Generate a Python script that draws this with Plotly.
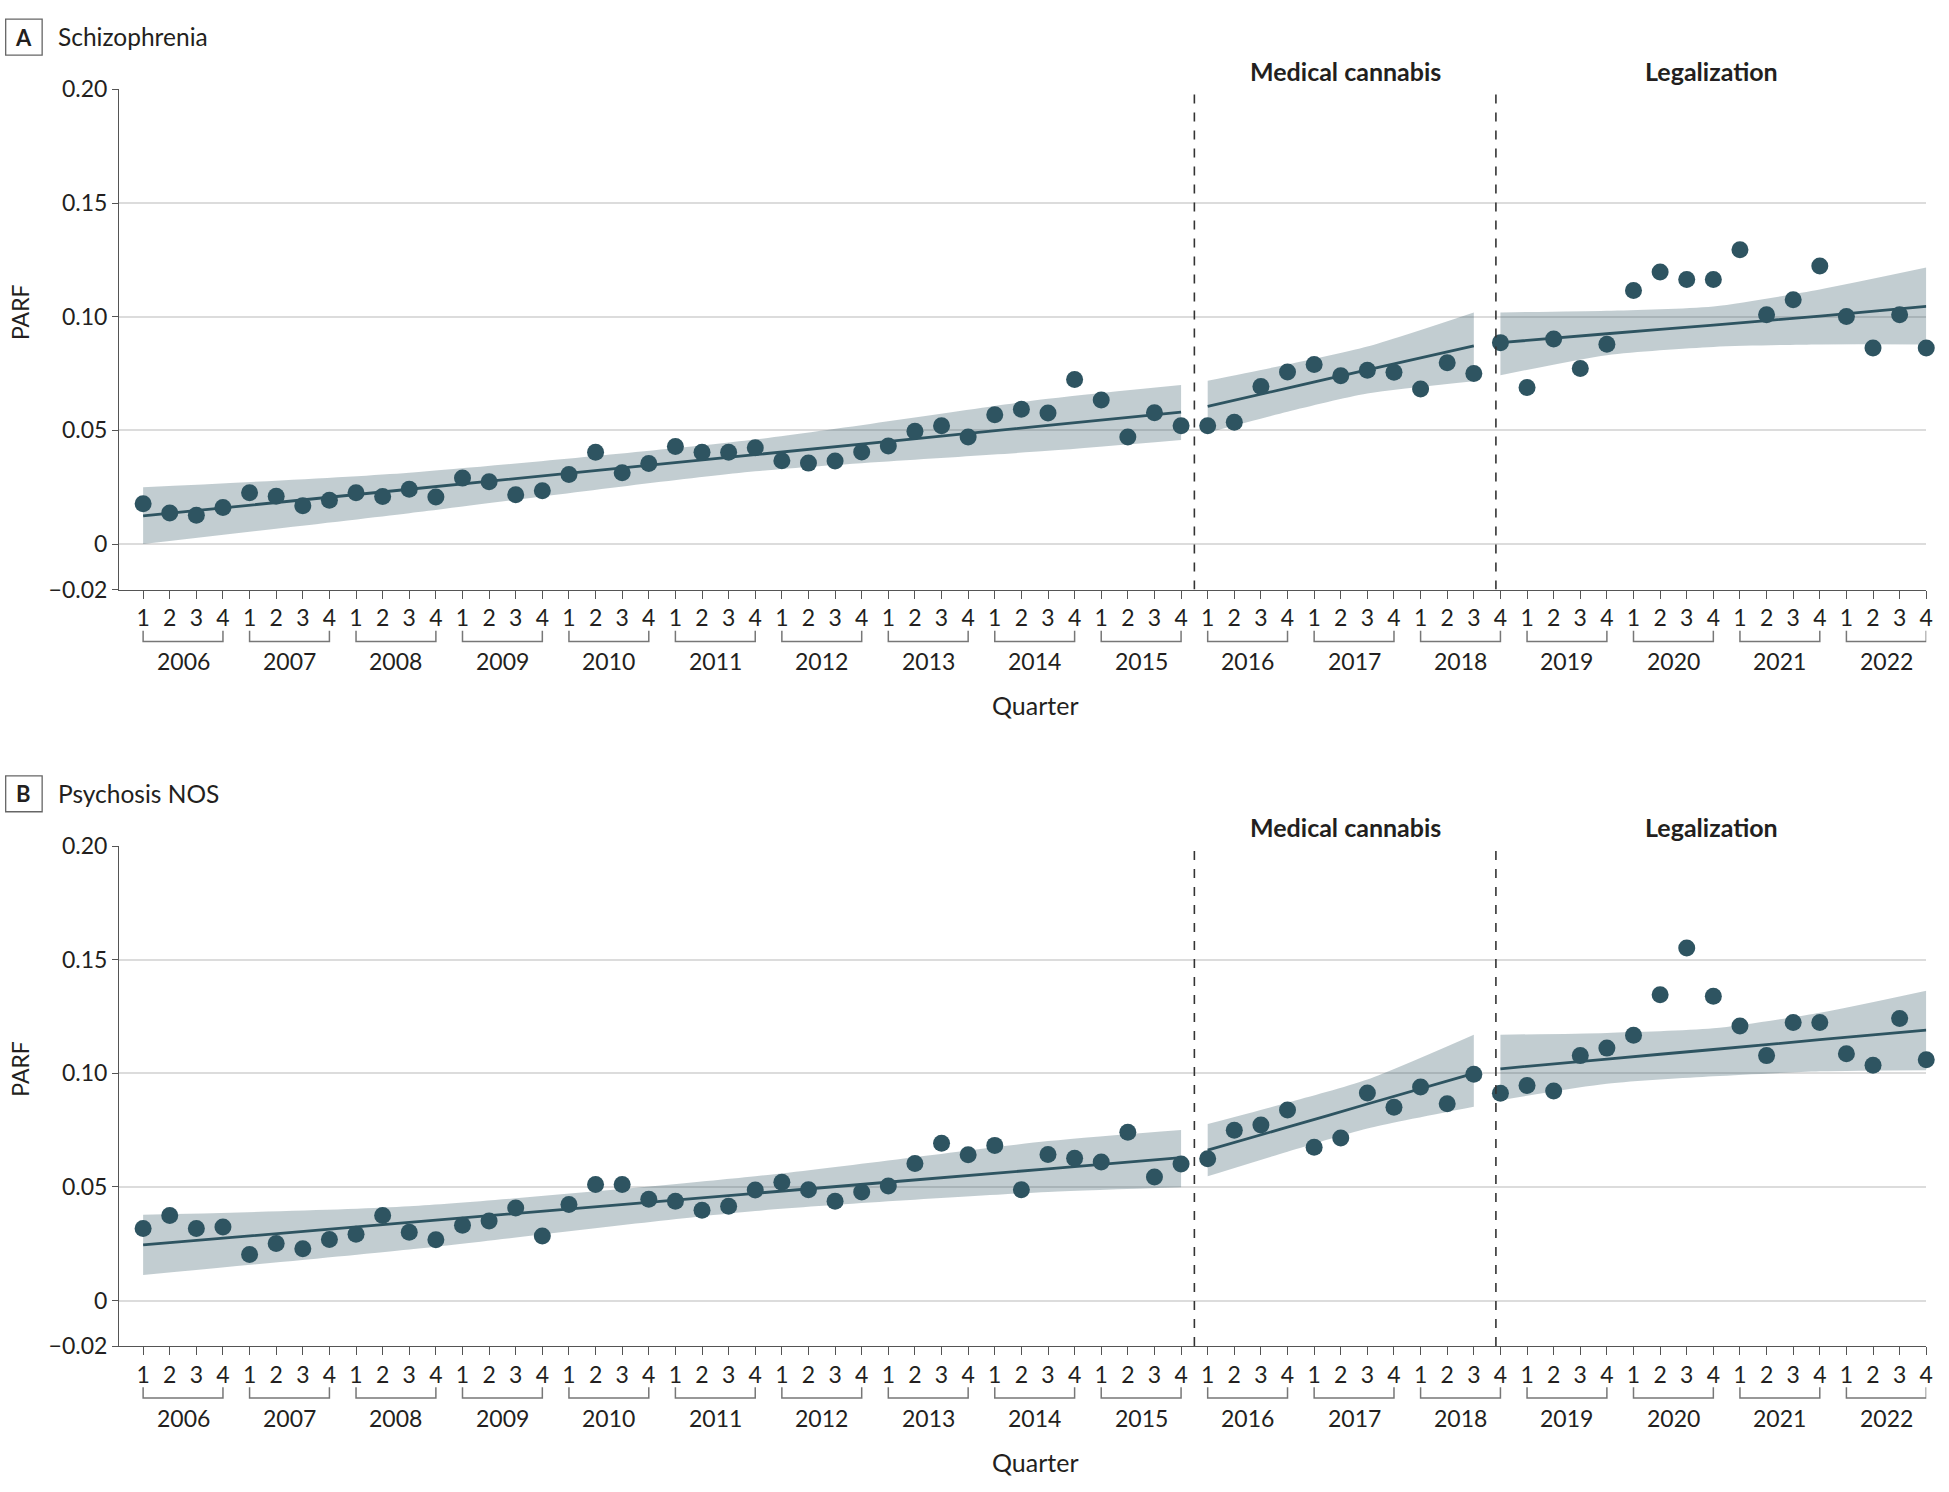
import plotly.graph_objects as go

W, H = 1949, 1492

# ---------------- data ----------------
years = list(range(2006, 2023))
quarter_labels = ["1", "2", "3", "4"]

schizophrenia = [
    0.0177, 0.0137, 0.0127, 0.0161,
    0.0226, 0.0210, 0.0169, 0.0193,
    0.0226, 0.0209, 0.0241, 0.0207,
    0.0290, 0.0274, 0.0217, 0.0234,
    0.0306, 0.0404, 0.0314, 0.0354,
    0.0429, 0.0404, 0.0404, 0.0424,
    0.0366, 0.0356, 0.0365, 0.0405,
    0.0431, 0.0496, 0.0520, 0.0471,
    0.0569, 0.0593, 0.0576, 0.0724,
    0.0634, 0.0471, 0.0578, 0.0520,
    0.0520, 0.0536, 0.0693, 0.0757,
    0.0790, 0.0740, 0.0764, 0.0756,
    0.0682, 0.0797, 0.0750, 0.0886,
    0.0689, 0.0902, 0.0772, 0.0879,
    0.1115, 0.1197, 0.1164, 0.1164,
    0.1295, 0.1009, 0.1075, 0.1223,
    0.1001, 0.0862, 0.1009, 0.0862,
]

psychosis_nos = [
    0.0317, 0.0374, 0.0317, 0.0324,
    0.0203, 0.0251, 0.0228, 0.0269,
    0.0292, 0.0374, 0.0301, 0.0268,
    0.0332, 0.0350, 0.0407, 0.0284,
    0.0423, 0.0511, 0.0511, 0.0446,
    0.0437, 0.0398, 0.0415, 0.0487,
    0.0521, 0.0488, 0.0437, 0.0478,
    0.0504, 0.0603, 0.0692, 0.0642,
    0.0683, 0.0488, 0.0643, 0.0626,
    0.0610, 0.0741, 0.0544, 0.0601,
    0.0624, 0.0750, 0.0773, 0.0839,
    0.0675, 0.0715, 0.0913, 0.0851,
    0.0940, 0.0866, 0.0996, 0.0912,
    0.0947, 0.0922, 0.1078, 0.1111,
    0.1168, 0.1346, 0.1552, 0.1339,
    0.1208, 0.1078, 0.1224, 0.1224,
    0.1086, 0.1036, 0.1241, 0.1060,
]

# fitted trend + 95% CI, read at knot quarters (index 0 = 2006 Q1)
seg_knots = [[0, 10, 23, 34, 39], [40, 43, 46, 50], [51, 55, 59, 63, 67]]

a_fit = [[0.0124, 0.0241, 0.0393, 0.0522, 0.0580],
         [0.0606, 0.0686, 0.0766, 0.0872],
         [0.0886, 0.0925, 0.0963, 0.1003, 0.1045]]
a_lo = [[0.0000, 0.0136, 0.0320, 0.0410, 0.0458],
        [0.0490, 0.0582, 0.0662, 0.0716],
        [0.0742, 0.0831, 0.0867, 0.0878, 0.0878]]
a_hi = [[0.0250, 0.0314, 0.0460, 0.0639, 0.0700],
        [0.0718, 0.0790, 0.0869, 0.1019],
        [0.1019, 0.1026, 0.1045, 0.1120, 0.1216]]

b_fit = [[0.0245, 0.0344, 0.0472, 0.0580, 0.0629],
         [0.0662, 0.0763, 0.0865, 0.1000],
         [0.1020, 0.1063, 0.1105, 0.1148, 0.1190]]
b_lo = [[0.0113, 0.0225, 0.0394, 0.0478, 0.0499],
        [0.0547, 0.0655, 0.0757, 0.0853],
        [0.0882, 0.0954, 0.0987, 0.1009, 0.1014]]
b_hi = [[0.0378, 0.0415, 0.0547, 0.0702, 0.0751],
        [0.0777, 0.0871, 0.0973, 0.1170],
        [0.1170, 0.1178, 0.1198, 0.1267, 0.1364]]

period_labels = ["Medical cannabis", "Legalization"]
period_starts = [39.5, 50.83]

panel_letters = ["A", "B"]
panel_titles = ["Schizophrenia", "Psychosis NOS"]

ytick_vals = [-0.02, 0, 0.05, 0.10, 0.15, 0.20]
ytick_text = ["\u22120.02", "0", "0.05", "0.10", "0.15", "0.20"]

# ---------------- styling ----------------
DOT = "#2E5461"
BAND = "rgba(46,84,97,0.29)"
TXT = "#231F20"
GRID = "#DCDCDC"
AX = "#555555"
FONT = "Lato, 'Noto Sans', sans-serif"
FS = 23

n = len(years) * 4
xs = list(range(n))
x_end = n - 1
x_start = -0.9


def fx(px):
    return px / W


def fy(py):
    return 1 - py / H


panels = [dict(top=75.8, bot=585.5), dict(top=847.0, bot=1356.5)]
x_left_px, x_right_px = 119.6, 1933.2

fig = go.Figure()
series = [schizophrenia, psychosis_nos]
fits = [(a_fit, a_lo, a_hi), (b_fit, b_lo, b_hi)]

shapes = []
annotations = []

for p in range(2):
    xa = "x" if p == 0 else "x2"
    ya = "y" if p == 0 else "y2"
    fit, lo, hi = fits[p]
    for s in range(3):
        fig.add_trace(go.Scatter(x=seg_knots[s], y=lo[s], mode="lines",
                                 line=dict(width=0, shape="spline", smoothing=0.7),
                                 hoverinfo="skip", showlegend=False, xaxis=xa, yaxis=ya))
        fig.add_trace(go.Scatter(x=seg_knots[s], y=hi[s], mode="lines",
                                 line=dict(width=0, shape="spline", smoothing=0.7),
                                 fill="tonexty", fillcolor=BAND,
                                 hoverinfo="skip", showlegend=False, xaxis=xa, yaxis=ya))
    for s in range(3):
        fig.add_trace(go.Scatter(x=seg_knots[s], y=fit[s], mode="lines",
                                 line=dict(width=2.8, color=DOT, shape="spline", smoothing=0.5),
                                 hoverinfo="skip", showlegend=False, xaxis=xa, yaxis=ya))
    fig.add_trace(go.Scatter(x=xs, y=series[p], mode="markers",
                             marker=dict(size=17, color=DOT),
                             cliponaxis=False, showlegend=False, xaxis=xa, yaxis=ya))

    for xv in period_starts:
        shapes.append(dict(type="line", xref=xa, yref=ya, x0=xv, x1=xv, y0=-0.02, y1=0.20,
                           line=dict(color="#333333", width=1.6, dash="dash"), layer="above"))
    bounds = period_starts + [x_end]
    top = panels[p]["top"]
    bot = panels[p]["bot"]
    for i, lab in enumerate(period_labels):
        annotations.append(dict(text="<b>" + lab + "</b>", xref=xa, yref="paper",
                                x=(bounds[i] + bounds[i + 1]) / 2, y=fy(top - 19),
                                showarrow=False, xanchor="center", yanchor="middle",
                                font=dict(size=25, color=TXT, family=FONT)))
    for k, yr in enumerate(years):
        x0 = k * 4
        x1 = k * 4 + 3
        yt = fy(bot + 42)
        yb = fy(bot + 53)
        shapes.append(dict(type="path", xref=xa, yref="paper",
                           path=f"M {x0},{yt} L {x0},{yb} L {x1},{yb} L {x1},{yt}",
                           line=dict(color="#777777", width=1.5)))
        annotations.append(dict(text=str(yr), xref=xa, yref="paper", x=(x0 + x1) / 2,
                                y=fy(bot + 73), showarrow=False, xanchor="center",
                                yanchor="middle", font=dict(size=FS, color=TXT, family=FONT)))
    annotations.append(dict(text="Quarter", xref="paper", yref="paper", x=fx(1039),
                            y=fy(bot + 118), showarrow=False, xanchor="center", yanchor="middle",
                            font=dict(size=25, color=TXT, family=FONT)))
    annotations.append(dict(text="PARF", xref="paper", yref="paper", x=fx(20),
                            y=fy(top + 227), showarrow=False, textangle=-90,
                            xanchor="center", yanchor="middle",
                            font=dict(size=23, color=TXT, family=FONT)))
    shapes.append(dict(type="rect", xref="paper", yref="paper", x0=fx(5.7), x1=fx(42.3),
                       y0=fy(top - 71.6), y1=fy(top - 35.0), line=dict(color="#666666", width=1.3)))
    annotations.append(dict(text="<b>" + panel_letters[p] + "</b>", xref="paper", yref="paper",
                            x=fx(24.0), y=fy(top - 53.3), showarrow=False, xanchor="center",
                            yanchor="middle", font=dict(size=22, color=TXT, family=FONT)))
    annotations.append(dict(text=panel_titles[p], xref="paper", yref="paper",
                            x=fx(56), y=fy(top - 54), showarrow=False, xanchor="left",
                            yanchor="middle", font=dict(size=24.5, color=TXT, family=FONT)))

xaxis_common = dict(range=[x_start, x_end], tickvals=xs, ticktext=quarter_labels * len(years),
                    ticks="outside", ticklen=8, tickwidth=1.3, tickcolor=AX,
                    showline=True, linecolor=AX, linewidth=1.3, showgrid=False, zeroline=False,
                    tickfont=dict(size=FS, color=TXT, family=FONT),
                    domain=[fx(x_left_px), fx(x_right_px)], fixedrange=True)
yaxis_common = dict(range=[-0.02, 0.20], tickvals=ytick_vals, ticktext=ytick_text,
                    ticks="outside", ticklen=6, tickwidth=1.3, tickcolor=AX,
                    showline=True, linecolor=AX, linewidth=1.3,
                    showgrid=True, gridcolor=GRID, gridwidth=1.6, zeroline=False,
                    tickfont=dict(size=FS, color=TXT, family=FONT), fixedrange=True)

fig.update_layout(
    width=W, height=H,
    margin=dict(l=0, r=0, t=0, b=0),
    paper_bgcolor="white", plot_bgcolor="white",
    showlegend=False,
    xaxis=dict(**xaxis_common, anchor="y"),
    yaxis=dict(**yaxis_common, anchor="x",
               domain=[fy(panels[0]["bot"]), fy(panels[0]["top"])]),
    xaxis2=dict(**xaxis_common, anchor="y2"),
    yaxis2=dict(**yaxis_common, anchor="x2",
                domain=[fy(panels[1]["bot"]), fy(panels[1]["top"])]),
    shapes=shapes,
    annotations=annotations,
    font=dict(family=FONT, color=TXT),
)

fig.write_html("out.html", config={"displayModeBar": False},
               post_script="document.body.style.margin='0';document.body.style.overflow='hidden';")
